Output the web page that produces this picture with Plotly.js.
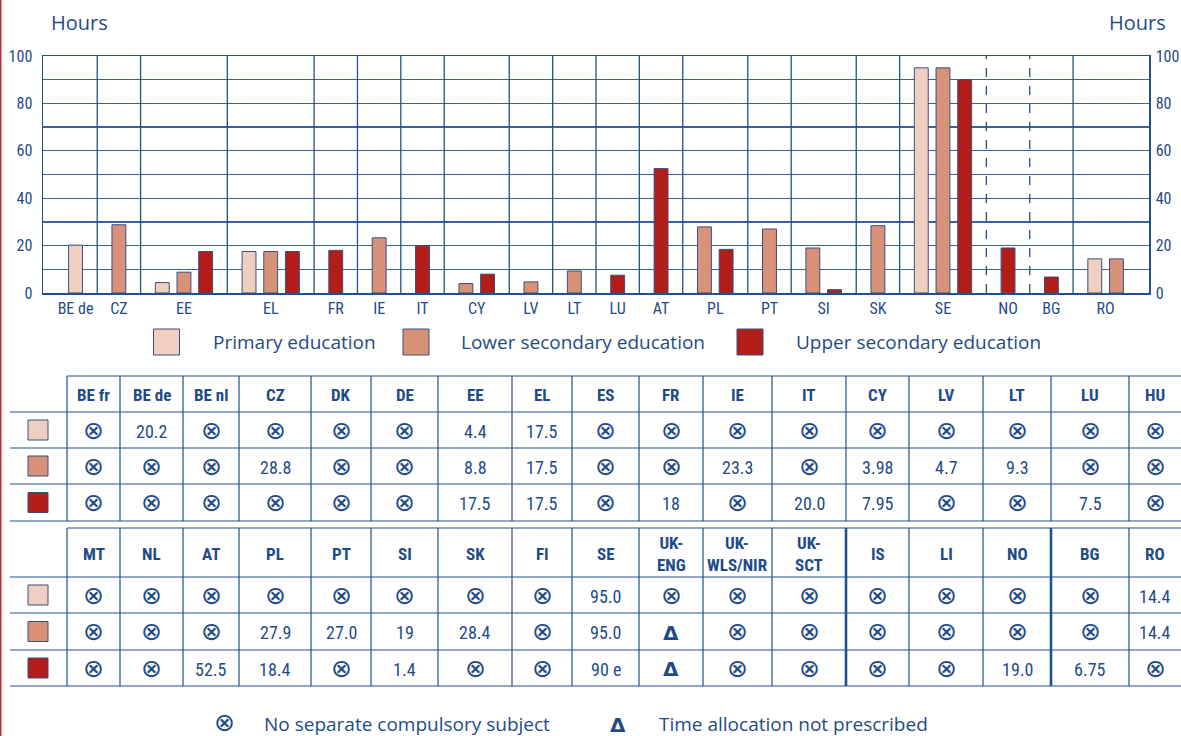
<!DOCTYPE html>
<html><head><meta charset="utf-8">
<script src="https://cdn.plot.ly/plotly-3.0.1.min.js"></script>
<style>html,body{margin:0;padding:0;background:#fff;}#chart{width:1181px;height:736px;}</style>
</head><body><div id="chart"></div>
<script>
// ---------------- DATA ----------------
const NA = '⊗', TN = 'Δ';
const countries1 = ['BE fr','BE de','BE nl','CZ','DK','DE','EE','EL','ES','FR','IE','IT','CY','LV','LT','LU','HU'];
const primary1   = [NA,'20.2',NA,NA,NA,NA,'4.4','17.5',NA,NA,NA,NA,NA,NA,NA,NA,NA];
const lower1     = [NA,NA,NA,'28.8',NA,NA,'8.8','17.5',NA,NA,'23.3',NA,'3.98','4.7','9.3',NA,NA];
const upper1     = [NA,NA,NA,NA,NA,NA,'17.5','17.5',NA,'18',NA,'20.0','7.95',NA,NA,'7.5',NA];
const countries2 = ['MT','NL','AT','PL','PT','SI','SK','FI','SE','UK-<br>ENG','UK-<br>WLS/NIR','UK-<br>SCT','IS','LI','NO','BG','RO'];
const primary2   = [NA,NA,NA,NA,NA,NA,NA,NA,'95.0',NA,NA,NA,NA,NA,NA,NA,'14.4'];
const lower2     = [NA,NA,NA,'27.9','27.0','19','28.4',NA,'95.0',TN,NA,NA,NA,NA,NA,NA,'14.4'];
const upper2     = [NA,NA,'52.5','18.4',NA,'1.4',NA,NA,'90 e',TN,NA,NA,NA,NA,'19.0','6.75',NA];
const levelNames = ['Primary education','Lower secondary education','Upper secondary education'];
const yGrid = [0,10,20,30,40,50,60,70,80,90,100];
const yLabels = ['0','','20','','40','','60','','80','','100'];
const axisTitle = 'Hours';
const noteNA = 'No separate compulsory subject';
const noteTN = 'Time allocation not prescribed';
const dashedBefore = ['NO','BG'];      // dashed separators in chart
const thickBefore2 = ['IS','BG'];      // thick separators in table 2

// ---------------- STYLE ----------------
const W = 1181, H = 736;
const X0 = 43, X1 = 1149, Y0 = 56, Y1 = 293;
const TC = '#1f4b87', LC = '#22508c', GC = '#3963a0', BL = '#3b4f7c';
const COLORS = ['#f1cfc0','#d8927a','#b21d1a'];
const COND = "'Roboto Condensed','Liberation Sans Narrow','DejaVu Sans Condensed','Arial Narrow',Roboto,sans-serif";
const REG = "'Open Sans','Noto Sans',sans-serif";
const SYM = "'DejaVu Sans',sans-serif";
const colEdges = [67,120,183,239,311,371,438,512,572,639,703,772,846,909,983,1051,1129,1181];
const t1Rows = [376,412,448,484,521];
const t2Rows = [528,577,613,650,686];

// ---------------- CHART POSITIONS ----------------
const allC = countries1.concat(countries2);
const allV = [primary1.concat(primary2), lower1.concat(lower2), upper1.concat(upper2)];
const groups = [];
allC.forEach((c, i) => {
  const present = [];
  allV.forEach((arr, k) => { const v = parseFloat(arr[i]); if (!isNaN(v)) present.push({k, v}); });
  if (present.length) groups.push({c: c.replace('<br>',''), present});
});
const bx = [[],[],[]], by = [[],[],[]], tickvals = [], ticktext = [], seps = [];
let cur = 0.5;
groups.forEach((g, gi) => {
  const n = g.present.length;
  g.present.forEach((o, j) => { bx[o.k].push(cur + 1 + j); by[o.k].push(o.v); });
  tickvals.push(cur + (n + 1) / 2); ticktext.push(g.c);
  cur += n + 1;
  if (gi < groups.length - 1) seps.push({x: cur, dashed: dashedBefore.includes(groups[gi+1].c)});
});
const xMax = cur + 0.5;

const traces = [0,1,2].map(k => ({
  type: 'bar', x: bx[k], y: by[k], name: levelNames[k], width: 0.64,
  marker: {color: COLORS[k], line: {color: BL, width: 1}},
  xaxis: 'x', yaxis: 'y', hoverinfo: 'skip'
}));
// right axis carrier
traces.push({type:'scatter', x:[0], y:[0], mode:'none', xaxis:'x', yaxis:'y3', hoverinfo:'skip', showlegend:false});

// swatches (legend + table rows) in pixel axes
const swX = [], swY = [], swC = [], swS = [];
const legendSq = [166.5, 416, 750], legendTx = [212, 460, 795], legendY = 342;
[0,1,2].forEach(k => { swX.push(legendSq[k]); swY.push(legendY); swC.push(COLORS[k]); swS.push(26); });
[t1Rows, t2Rows].forEach(rows => {
  [0,1,2].forEach(k => { swX.push(38); swY.push((rows[k+1] + rows[k+2]) / 2); swC.push(COLORS[k]); swS.push(20); });
});
traces.push({type:'scatter', mode:'markers', x: swX, y: swY, xaxis:'x2', yaxis:'y2', hoverinfo:'skip',
  marker:{symbol:'square', size: swS, color: swC, opacity: 1, line:{color: BL, width: 1}}});

const shapes = [];
const annotations = [];
// chart separators
seps.forEach(s => shapes.push({type:'line', xref:'x', yref:'y', x0:s.x, x1:s.x, y0:0, y1:100,
  line:{color: LC, width: 1.3, dash: s.dashed ? 'dash' : 'solid'}}));

// red page edge
shapes.push({type:'line', xref:'paper', yref:'paper', x0:0.0006, x1:0.0006, y0:0, y1:1, line:{color:'#c4262e', width:1.5}});

// tables
function hline(y, xa, xb, w) { shapes.push({type:'line', xref:'x2', yref:'y2', x0:xa, x1:xb, y0:y, y1:y, line:{color:LC, width:w||1.2}}); }
function vline(x, ya, yb, w) { shapes.push({type:'line', xref:'x2', yref:'y2', x0:x, x1:x, y0:ya, y1:yb, line:{color:LC, width:w||1.2}}); }
function txt(x, y, t, font, extra) { annotations.push(Object.assign({xref:'x2', yref:'y2', x, y, text:t, showarrow:false, xanchor:'center', yanchor:'middle', borderpad:0, font}, extra||{})); }

function drawTable(rows, names, vals, thick) {
  hline(rows[0], colEdges[0], W);
  for (let r = 1; r < rows.length; r++) hline(rows[r], 10, W);
  for (let c = 0; c < colEdges.length - 1; c++) {
    const isThick = c > 0 && thick.includes(names[c].replace('<br>',''));
    vline(colEdges[c], rows[0], rows[rows.length-1], isThick ? 2.6 : 1.2);
  }
  names.forEach((n, c) => {
    const cx = (colEdges[c] + colEdges[c+1]) / 2;
    txt(cx, (rows[0] + rows[1]) / 2 + 1, '<b>' + n + '</b>', {family: COND, size: 17, color: TC});
    vals.forEach((arr, r) => {
      const v = arr[c], cy = (rows[r+1] + rows[r+2]) / 2 + 1;
      if (v === NA) txt(cx, cy - 1, NA, {family: SYM, size: 25, color: TC});
      else if (v === TN) txt(cx, cy, '<b>' + TN + '</b>', {family: SYM, size: 20, color: TC});
      else txt(cx, cy, v, {family: COND, size: 18, color: TC});
    });
  });
}
drawTable(t1Rows, countries1, [primary1, lower1, upper1], []);
drawTable(t2Rows, countries2, [primary2, lower2, upper2], thickBefore2);

// legend text
[0,1,2].forEach(k => txt(legendTx[k], legendY, levelNames[k], {family: REG, size: 19, color: TC}, {xanchor:'left'}));
// hours titles
txt(50, 22, axisTitle, {family: REG, size: 20, color: TC}, {xanchor:'left'});
txt(1167, 22, axisTitle, {family: REG, size: 20, color: TC}, {xanchor:'right'});
// footnote
txt(224, 722.5, NA, {family: SYM, size: 25, color: TC});
txt(263, 723.5, noteNA, {family: REG, size: 19, color: TC}, {xanchor:'left'});
txt(618, 725, '<b>' + TN + '</b>', {family: SYM, size: 20, color: TC});
txt(658, 723.5, noteTN, {family: REG, size: 19, color: TC}, {xanchor:'left'});

const tickFont = {family: COND, size: 16, color: TC};
const yTickFont = {family: COND, size: 16, color: TC};
const layout = {
  width: W, height: H, margin: {l:0, r:0, t:0, b:0},
  paper_bgcolor: '#ffffff', plot_bgcolor: 'rgba(0,0,0,0)', showlegend: false, barmode: 'overlay',
  xaxis: {domain: [X0/W, X1/W], range: [0, xMax], tickvals, ticktext, showgrid: false, zeroline: false,
    showline: true, linecolor: LC, linewidth: 1.5, mirror: true, ticks: '', tickfont: tickFont, fixedrange: true, anchor: 'y'},
  yaxis: {domain: [1 - Y1/H, 1 - Y0/H], range: [0, 100], tickvals: yGrid, ticktext: yLabels, showgrid: true, gridcolor: GC, gridwidth: 1.3,
    zeroline: false, showline: true, linecolor: LC, linewidth: 1.5, ticks: '', ticklabelstandoff: 6, tickfont: yTickFont, fixedrange: true, anchor: 'x'},
  yaxis3: {overlaying: 'y', side: 'right', anchor: 'x', range: [0, 100], tickvals: yGrid, ticktext: yLabels, showgrid: false, zeroline: false,
    showline: true, linecolor: LC, linewidth: 1.5, ticks: '', ticklabelstandoff: 2, tickfont: yTickFont, fixedrange: true},
  xaxis2: {domain: [0, 1], range: [0, W], visible: false, fixedrange: true, anchor: 'y2'},
  yaxis2: {domain: [0, 1], range: [H, 0], visible: false, fixedrange: true, anchor: 'x2'},
  shapes, annotations
};
Plotly.newPlot('chart', traces, layout, {displayModeBar: false, staticPlot: true});
</script></body></html>
